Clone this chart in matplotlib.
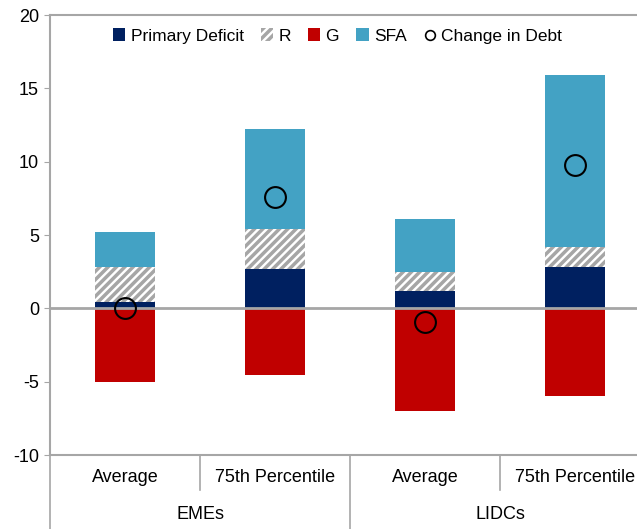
import matplotlib.pyplot as plt
import numpy as np
from matplotlib.lines import Line2D
from matplotlib.patches import Patch

plt.rcParams['font.family'] = ['Liberation Sans', 'DejaVu Sans']
plt.rcParams['axes.unicode_minus'] = False
plt.rcParams['hatch.color'] = '#a6a6a6'
plt.rcParams['hatch.linewidth'] = 2.5

categories = ['Average', '75th Percentile', 'Average', '75th Percentile']
groups = ['EMEs', 'LIDCs']
primary_deficit = [0.4, 2.7, 1.15, 2.8]
r_effect = [2.4, 2.7, 1.35, 1.35]
g_effect = [-5.0, -4.55, -7.0, -5.95]
sfa = [2.4, 6.8, 3.6, 11.75]
change_in_debt = [0.05, 7.6, -0.9, 9.8]

navy = '#002060'
red = '#c00000'
blue = '#43a2c4'
grey = '#a6a6a6'

fig = plt.figure(figsize=(6.37, 5.29), dpi=100)
ax = fig.add_axes([50 / 637, 74 / 529, 587 / 637, 440 / 529])

x = np.arange(len(categories))
w = 0.4
pd_ = np.array(primary_deficit)
rr = np.array(r_effect)
ax.bar(x, pd_, w, color=navy, zorder=2)
ax.bar(x, rr, w, bottom=pd_, color='white', hatch='////', edgecolor=grey, linewidth=0, zorder=2)
ax.bar(x, sfa, w, bottom=pd_ + rr, color=blue, zorder=2)
ax.bar(x, g_effect, w, color=red, zorder=2)
ax.plot(x, change_in_debt, 'o', ms=15, mfc='none', mec='black', mew=1.5, zorder=4)

ax.axhline(0, color=grey, lw=2, zorder=3)
ax.set_xlim(-0.5, -0.5 + 587 / 150)
ax.set_ylim(-10, 20)
ax.set_yticks(range(-10, 21, 5))
ax.set_xticks([])
ax.tick_params(axis='y', labelsize=13, length=4, color=grey, pad=4)
for s in ['left', 'top', 'bottom']:
    ax.spines[s].set_color(grey)
    ax.spines[s].set_linewidth(1.5)
ax.spines['right'].set_visible(False)

# two-level category axis
for i, c in enumerate(categories):
    ax.text(i, -11.55, c, ha='center', va='center', fontsize=13)
for j, g in enumerate(groups):
    ax.text(2 * j + 0.5, -14.05, g, ha='center', va='center', fontsize=13)
for xb in [0.5, 2.5]:
    ax.plot([xb, xb], [-10, -12.4], color=grey, lw=1.2, clip_on=False)
for xb in [-0.5, 1.5]:
    ax.plot([xb, xb], [-10, -15.1], color=grey, lw=1.2, clip_on=False)

handles = [
    Patch(facecolor=navy, label='Primary Deficit'),
    Patch(facecolor='white', hatch='////', edgecolor=grey, linewidth=0, label='R'),
    Patch(facecolor=red, label='G'),
    Patch(facecolor=blue, label='SFA'),
    Line2D([], [], marker='o', ls='none', mfc='none', mec='black', mew=1.2, ms=7, label='Change in Debt'),
]
ax.legend(handles=handles, ncol=5, loc='upper center', bbox_to_anchor=(0.49, 1.005),
          frameon=False, fontsize=12.5, handlelength=0.7, handleheight=0.7,
          handletextpad=0.3, columnspacing=1.0)

fig.savefig('out.png', dpi=100)
